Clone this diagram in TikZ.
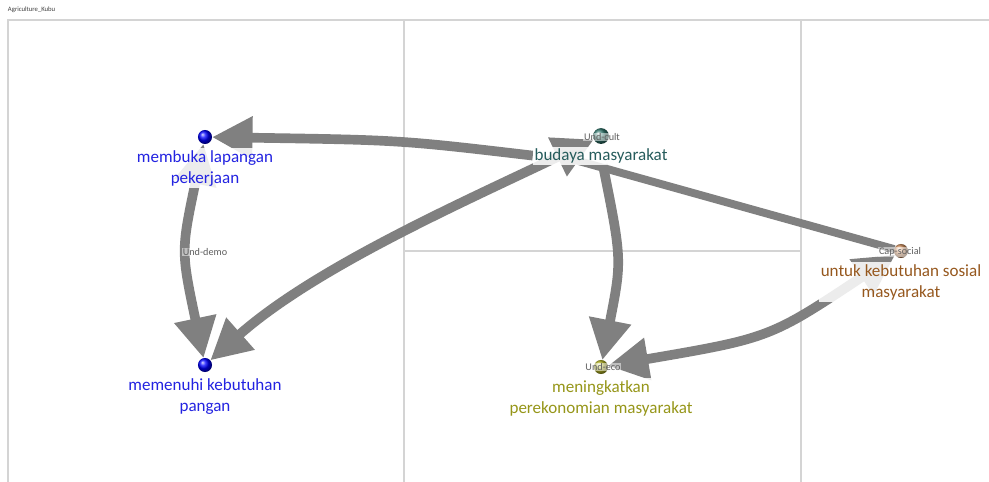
\documentclass[tikz,border=0pt]{standalone}
\usepackage{fontspec}
\setmainfont{Carlito}
\usetikzlibrary{positioning,arrows.meta}
\pgfdeclarelayer{edges}
\pgfsetlayers{edges,main}
\definecolor{linkgray}{RGB}{128,128,128}
\definecolor{gridgray}{RGB}{212,212,212}
\definecolor{groupgray}{RGB}{95,95,95}
\definecolor{demoblue}{RGB}{35,35,225}
\definecolor{cultteal}{RGB}{38,92,92}
\definecolor{cultball}{RGB}{50,120,110}
\definecolor{ecoolive}{RGB}{150,150,25}
\definecolor{ecoball}{RGB}{185,185,40}
\definecolor{socialbrown}{RGB}{150,88,30}
\definecolor{socialball}{RGB}{215,150,100}

\begin{document}
\begin{tikzpicture}[
    x=0.02cm, y=-0.02cm,
    every node/.style={
        inner sep=0pt,
        outer sep=0pt,
    },
    bead/.style={
        circle,
        minimum size=8pt,
        shading=ball,
        ball color=#1,
    },
    nodetext/.style={
        text=#1,
        align=center,
        font=\fontsize{9.7}{12.2}\selectfont,
        fill=white,
        fill opacity=.85,
        text opacity=1,
        inner sep=1pt,
    },
    grouplabel/.style={
        text=groupgray,
        font=\fontsize{5.8}{7}\selectfont,
        fill=white,
        fill opacity=.5,
        text opacity=1,
        inner sep=.5pt,
    },
    link/.style={
        draw=linkgray,
        line width=#1,
    },
    link/.default=5.5pt,
    gridline/.style={
        draw=gridgray,
        line width=.6pt,
    },
    >={Triangle[length=23pt,width=23pt]},
]
    \useasboundingbox (0,0) rectangle (989,481);
    \node[anchor=west, font=\fontsize{3.8}{4}\selectfont, text=black!75] (title) at (8,10) {Agriculture\_Kubu};

    % balls
    \node[bead=blue] (lapangan) at (205,137) {};
    \node[bead=blue] (pangan) at (205,365) {};
    \node[bead=cultball, minimum size=9pt] (budaya) at (601,136) {};
    \node[bead=ecoball] (ekonomi) at (601,367) {};
    \node[bead=socialball] (sosial) at (901,251) {};

    % texts
    \node[nodetext=demoblue, below=2.5pt of lapangan] (lapanganText) {membuka lapangan\\pekerjaan};
    \node[nodetext=demoblue, below=2.5pt of pangan] (panganText) {memenuhi kebutuhan\\pangan};
    \node[nodetext=cultteal, below=1.5pt of budaya] (budayaText) {budaya masyarakat};
    \node[nodetext=ecoolive, below=2.5pt of ekonomi] (ekonomiText) {meningkatkan\\perekonomian masyarakat};
    \node[nodetext=socialbrown, below=2.5pt of sosial] (sosialText) {untuk kebutuhan sosial\\masyarakat};

    % groups
    \node[grouplabel] (demoGroup) at (205,252) {Und-demo};
    \node[grouplabel] (cultGroup) at (602,137) {Und-cult};
    \node[grouplabel] (ecoGroup) at (603,367) {Und-eco};
    \node[grouplabel] (socialGroup) at (900,252) {Cap-social};

    \coordinate (budayaHub) at (575,160);

    \begin{pgfonlayer}{edges}
    \fill[white] (0,0) rectangle (989,481);
    \draw[gridline] (8,490) -- (8,20) -- (995,20);
    \foreach \x in {404,801}{
        \draw[gridline] (\x,20) -- (\x,490);
    }
    \draw[gridline] (404,251) -- (801,251);

    \draw[link, ->] (budayaText.west) .. controls (400,140) .. (lapangan);
    \draw[link, <->] (pangan) .. controls (317,266) and (468,200) .. (budaya);
    \draw[link, <->] (lapangan) .. controls (181,251) .. (pangan);
    \draw[link, ->] (budayaText) .. controls (622,260) .. (ekonomi);
    \draw[link, <->] (ekonomi) .. controls (770,338) .. (sosial);
    \draw[link=4.5pt] (sosial) -- (budayaHub);
    \end{pgfonlayer}
\end{tikzpicture}
\end{document}
